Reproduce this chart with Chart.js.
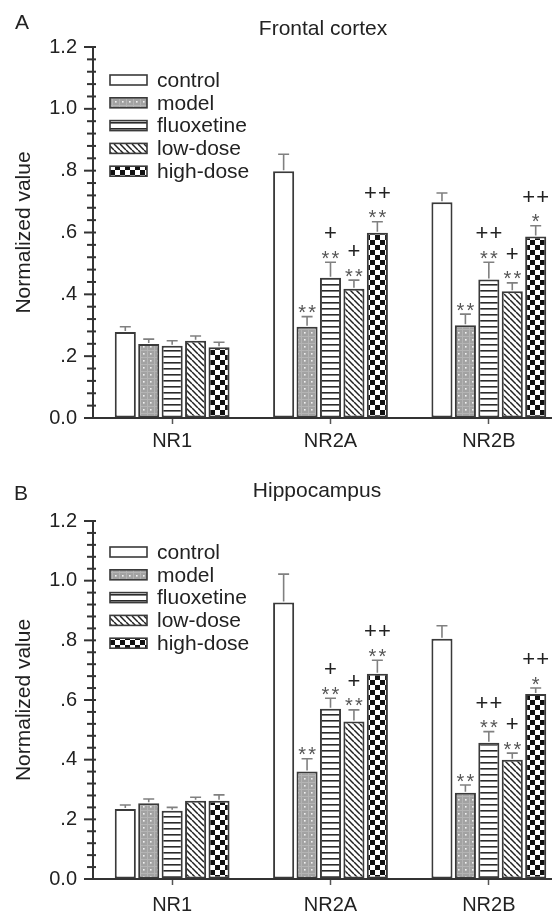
<!DOCTYPE html>
<html>
<head>
<meta charset="utf-8">
<script src="https://cdn.jsdelivr.net/npm/chart.js@4.4.0/dist/chart.umd.min.js"></script>
<style>
html, body { margin: 0; padding: 0; background: #fff; overflow: hidden; width: 552px; height: 912px; }
canvas { display: block; }
</style>
</head>
<body>
<canvas id="frontal-chart" width="600" height="460"></canvas>
<canvas id="hippo-chart" width="600" height="452"></canvas>
<script>
var categories = ['NR1', 'NR2A', 'NR2B'];
var seriesNames = ['control', 'model', 'fluoxetine', 'low-dose', 'high-dose'];

// A - frontal cortex (mean, error)
var frontalControl = [0.278, 0.798, 0.698];
var frontalModel = [0.239, 0.295, 0.300];
var frontalFluoxetine = [0.234, 0.454, 0.448];
var frontalLow = [0.250, 0.418, 0.410];
var frontalHigh = [0.229, 0.599, 0.587];
var frontalControlErr = [0.017, 0.055, 0.030];
var frontalModelErr = [0.016, 0.033, 0.036];
var frontalFluoxetineErr = [0.016, 0.050, 0.056];
var frontalLowErr = [0.015, 0.028, 0.027];
var frontalHighErr = [0.016, 0.036, 0.035];

// B - hippocampus
var hippoControl = [0.235, 0.927, 0.805];
var hippoModel = [0.254, 0.360, 0.289];
var hippoFluoxetine = [0.229, 0.571, 0.457];
var hippoLow = [0.262, 0.528, 0.400];
var hippoHigh = [0.262, 0.688, 0.620];
var hippoControlErr = [0.013, 0.095, 0.044];
var hippoModelErr = [0.014, 0.043, 0.026];
var hippoFluoxetineErr = [0.011, 0.035, 0.037];
var hippoLowErr = [0.012, 0.039, 0.022];
var hippoHighErr = [0.020, 0.045, 0.020];

// significance marks, same in both panels
var starMarks = [['', '', ''], ['', '**', '**'], ['', '**', '**'], ['', '**', '**'], ['', '**', '*']];
var plusMarks = [['', '', ''], ['', '', ''], ['', '+', '++'], ['', '+', '+'], ['', '++', '++']];

var FONT = '"Liberation Sans", Arial, Helvetica, sans-serif';

function makePattern(kind) {
    var c = document.createElement('canvas');
    var g = c.getContext('2d');
    if (kind === 'plain') {
        c.width = 4; c.height = 4;
        g.fillStyle = '#ffffff';
        g.fillRect(0, 0, 4, 4);
    } else if (kind === 'dots') {
        c.width = 7; c.height = 7;
        g.fillStyle = '#a2a2a2';
        g.fillRect(0, 0, 7, 7);
        g.fillStyle = '#b4b4b4';
        g.fillRect(0, 0, 7, 1);
        g.fillRect(0, 0, 1, 7);
        g.fillStyle = '#f2f2f2';
        g.fillRect(3, 3, 1.6, 1.6);
    } else if (kind === 'hlines') {
        c.width = 6; c.height = 6.4;
        g.fillStyle = '#ffffff';
        g.fillRect(0, 0, 6, 7);
        g.fillStyle = '#2a2a2a';
        g.fillRect(0, 2, 6, 1.6);
    } else if (kind === 'diag') {
        c.width = 6; c.height = 6;
        g.fillStyle = '#ffffff';
        g.fillRect(0, 0, 6, 6);
        g.strokeStyle = '#222';
        g.lineWidth = 1.5;
        for (var k = -6; k <= 6; k += 6) {
            g.beginPath();
            g.moveTo(k, 0);
            g.lineTo(k + 6, 6);
            g.stroke();
        }
    } else if (kind === 'checker') {
        c.width = 10; c.height = 10;
        g.fillStyle = '#ffffff';
        g.fillRect(0, 0, 10, 10);
        g.fillStyle = '#111';
        g.fillRect(0, 0, 5, 5);
        g.fillRect(5, 5, 5, 5);
    }
    return g.createPattern(c, 'repeat');
}

var fills = [makePattern('plain'), makePattern('dots'), makePattern('hlines'), makePattern('diag'), makePattern('checker')];

function tickLabel(v) {
    if (Math.abs(v * 5 - Math.round(v * 5)) > 1e-6) return '';
    var s = v.toFixed(1);
    if (v > 0 && v < 1) s = s.slice(1);
    return s;
}

function BuildChart(element, values, errors, title, letter, layout) {
    var datasets = seriesNames.map(function (name, i) {
        return {
            label: name,
            data: values[i],
            backgroundColor: fills[i],
            borderColor: '#3a3a3a',
            borderWidth: 2,
            borderSkipped: false
        };
    });

    var extras = {
        id: 'extras',
        afterDatasetsDraw: function (chart) {
            var ctx = chart.ctx;
            var y = chart.scales.y;
            ctx.save();
            ctx.textAlign = 'center';
            ctx.textBaseline = 'alphabetic';
            chart.data.datasets.forEach(function (ds, i) {
                var meta = chart.getDatasetMeta(i);
                meta.data.forEach(function (bar, j) {
                    var capY = y.getPixelForValue(ds.data[j] + errors[i][j]);
                    ctx.strokeStyle = '#808080';
                    ctx.lineWidth = 1.6;
                    ctx.beginPath();
                    ctx.moveTo(bar.x, bar.y - 1);
                    ctx.lineTo(bar.x, capY);
                    ctx.moveTo(bar.x - 5.5, capY);
                    ctx.lineTo(bar.x + 5.5, capY);
                    ctx.stroke();

                    var star = starMarks[i][j];
                    var plus = plusMarks[i][j];
                    var starY = capY - 9;
                    if (star) {
                        ctx.fillStyle = '#555';
                        ctx.font = '20px ' + FONT;
                        var offs = star.length === 2 ? [-5, 5] : [0];
                        offs.forEach(function (o) {
                            ctx.fillText('*', bar.x + o, starY + 11.5);
                        });
                    }
                    if (plus) {
                        var plusY = starY - 21;
                        ctx.fillStyle = '#222';
                        ctx.font = '22px ' + FONT;
                        var po = plus.length === 2 ? [-7, 7] : [0];
                        po.forEach(function (o) {
                            ctx.fillText('+', bar.x + o, plusY + 8);
                        });
                    }
                });
            });
            ctx.restore();
        },
        afterDraw: function (chart) {
            var ctx = chart.ctx;
            var y = chart.scales.y;
            var area = chart.chartArea;
            ctx.save();
            // y tick marks, long on labelled values
            ctx.strokeStyle = '#333';
            ctx.lineWidth = 2;
            y.ticks.forEach(function (t) {
                var py = y.getPixelForValue(t.value);
                var major = tickLabel(t.value) !== '';
                ctx.beginPath();
                ctx.moveTo(area.left - (major ? 9 : 6), py);
                ctx.lineTo(area.left + 3, py);
                ctx.stroke();
            });

            // legend inside the plot
            ctx.font = '21px ' + FONT;
            ctx.textBaseline = 'middle';
            ctx.textAlign = 'left';
            chart.data.datasets.forEach(function (ds, i) {
                var ly = area.top + layout.legendTop + i * 22.8;
                var lx = area.left + 17;
                ctx.fillStyle = ds.backgroundColor;
                ctx.fillRect(lx, ly - 5, 37, 10);
                ctx.strokeStyle = '#3a3a3a';
                ctx.lineWidth = 1.6;
                ctx.strokeRect(lx, ly - 5, 37, 10);
                ctx.fillStyle = '#222';
                ctx.fillText(ds.label, lx + 47, ly + 1);
            });

            // panel letter and title
            ctx.fillStyle = '#222';
            ctx.textAlign = 'center';
            ctx.font = '21px ' + FONT;
            ctx.fillText(letter, layout.letterX, layout.letterY);
            ctx.fillText(title, layout.titleX, layout.titleY);
            ctx.restore();
        }
    };

    var ctx = document.getElementById(element).getContext('2d');
    var myChart = new Chart(ctx, {
        type: 'bar',
        data: {
            labels: categories,
            datasets: datasets
        },
        options: {
            responsive: false,
            animation: false,
            layout: { padding: { top: layout.top, right: 32, left: 0, bottom: 0 } },
            datasets: {
                bar: { categoryPercentage: 0.74, barPercentage: 0.9 }
            },
            plugins: {
                legend: { display: false },
                tooltip: { enabled: false }
            },
            scales: {
                x: {
                    afterFit: function (scale) { scale.height = layout.xHeight; },
                    grid: { display: true, offset: false, drawOnChartArea: false, tickLength: 6, tickColor: '#555', tickWidth: 1.5 },
                    border: { display: true, color: '#333', width: 2 },
                    ticks: { color: '#222', font: { size: 20, family: FONT }, padding: layout.xPad }
                },
                y: {
                    min: 0,
                    max: 1.2,
                    afterFit: function (scale) { scale.width = 93; },
                    grid: { display: true, drawOnChartArea: false, tickLength: 8, tickColor: 'rgba(0,0,0,0)' },
                    border: { display: true, color: '#333', width: 2 },
                    ticks: {
                        stepSize: 0.04,
                        autoSkip: false,
                        padding: 8,
                        color: '#222',
                        font: { size: 20, family: FONT },
                        callback: function (v) { return tickLabel(v); }
                    },
                    title: {
                        display: true,
                        text: 'Normalized value',
                        color: '#222',
                        font: { size: 21, family: FONT },
                        padding: { top: 12, bottom: 0 }
                    }
                }
            }
        },
        plugins: [extras]
    });
    return myChart;
}

window.onload = function () {
    BuildChart('frontal-chart',
        [frontalControl, frontalModel, frontalFluoxetine, frontalLow, frontalHigh],
        [frontalControlErr, frontalModelErr, frontalFluoxetineErr, frontalLowErr, frontalHighErr],
        'Frontal cortex', 'A',
        { top: 47, xHeight: 42, xPad: 5, legendTop: 33, letterX: 22, letterY: 23, titleX: 323, titleY: 29 });
    BuildChart('hippo-chart',
        [hippoControl, hippoModel, hippoFluoxetine, hippoLow, hippoHigh],
        [hippoControlErr, hippoModelErr, hippoFluoxetineErr, hippoLowErr, hippoHighErr],
        'Hippocampus', 'B',
        { top: 61, xHeight: 33, xPad: 8, legendTop: 31, letterX: 21, letterY: 34, titleX: 317, titleY: 31 });
}
</script>
</body>
</html>
